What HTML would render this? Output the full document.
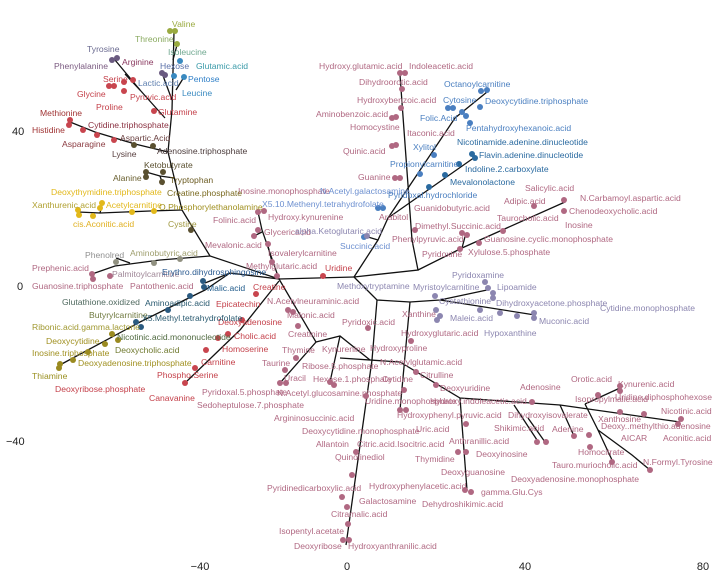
<!DOCTYPE html>
<html><head><meta charset="utf-8"><style>
html,body{margin:0;padding:0;background:#fff;}
svg{display:block;font-family:"Liberation Sans",sans-serif;}
text{font-size:8.6px;}
.ax{font-size:11px;fill:#222;}
</style></head><body>
<svg width="720" height="585" viewBox="0 0 720 585" xmlns="http://www.w3.org/2000/svg">
<g stroke="#111" stroke-width="1.3" fill="none">
<!-- upper-left tree -->
<polyline points="279,279 262,230 258,212"/>
<polyline points="262,232 254,236"/>
<polyline points="272,262 268,246"/>
<polyline points="279,279 210,256 182,210 168,152 172,110 174,32"/>
<polyline points="210,256 160,260 115,266 92,274"/>
<polyline points="130,263 116,258"/>
<polyline points="182,210 150,211 100,213 78,212"/>
<polyline points="100,213 102,205"/>
<polyline points="174,178 160,176 146,172"/>
<polyline points="160,176 163,185"/>
<polyline points="168,152 135,144 95,132 70,122"/>
<polyline points="165,118 140,90 115,60"/>
<polyline points="140,90 125,74"/>
<polyline points="172,100 162,73"/>
<polyline points="176,90 184,77"/>
<polyline points="173,60 177,45"/>
<!-- left blue / olive -->
<polyline points="279,279 230,273 205,290 140,322 58,366"/>
<polyline points="230,273 205,283"/>
<!-- red chain -->
<polyline points="279,281 240,330 185,383"/>
<!-- pink lower-left -->
<polyline points="279,279 316,342 280,383"/>
<polyline points="316,342 340,336 370,360"/>
<polyline points="340,336 330,382"/>
<polyline points="295,312 288,310"/>
<!-- center -->
<polyline points="279,279 354,277"/>
<polyline points="354,277 378,240 388,218 455,118 487,92"/>
<polyline points="388,218 475,157"/>
<polyline points="378,240 368,237"/>
<polyline points="354,277 418,270 412,240 400,75"/>
<polyline points="418,270 462,248 565,202"/>
<polyline points="462,248 466,233"/>
<polyline points="354,277 377,300 410,302 440,300 487,290"/>
<polyline points="440,300 535,315"/>
<polyline points="377,300 372,360 346,545"/>
<polyline points="410,302 400,410"/>
<polyline points="340,358 400,362 460,398 560,405 680,422"/>
<polyline points="460,398 467,490"/>
<polyline points="585,404 620,388"/>
<polyline points="585,404 598,430 612,460"/>
<polyline points="598,430 632,455 650,470"/>
<polyline points="560,405 574,436"/>
<polyline points="514,405 537,440"/>
<polyline points="528,418 545,442"/>
</g>
<g>
<!-- dots -->
<g fill="#b06882">
<circle cx="258" cy="212" r="3"/><circle cx="264" cy="211" r="3"/><circle cx="254" cy="236" r="3"/><circle cx="258" cy="230" r="3"/>
<circle cx="268" cy="244" r="3"/><circle cx="272" cy="262" r="3"/><circle cx="277" cy="276" r="3"/>
<circle cx="92" cy="274" r="3"/><circle cx="93" cy="279" r="3"/><circle cx="110" cy="276" r="3"/>
<circle cx="280" cy="383" r="3"/><circle cx="286" cy="383" r="3"/><circle cx="296" cy="358" r="3"/><circle cx="285" cy="370" r="3"/>
<circle cx="330" cy="382" r="3"/><circle cx="334" cy="385" r="3"/><circle cx="298" cy="326" r="3"/><circle cx="288" cy="310" r="3"/><circle cx="293" cy="312" r="3"/>
<circle cx="400" cy="73" r="3"/><circle cx="405" cy="73" r="3"/><circle cx="402" cy="89" r="3"/><circle cx="401" cy="108" r="3"/><circle cx="392" cy="118" r="3"/><circle cx="396" cy="117" r="3"/><circle cx="392" cy="146" r="3"/><circle cx="396" cy="145" r="3"/><circle cx="395" cy="178" r="3"/><circle cx="400" cy="178" r="3"/>
<circle cx="564" cy="200" r="3"/><circle cx="564" cy="211" r="3"/><circle cx="534" cy="206" r="3"/><circle cx="503" cy="231" r="3"/><circle cx="479" cy="243" r="3"/><circle cx="460" cy="249" r="3"/><circle cx="462" cy="233" r="3"/><circle cx="467" cy="235" r="3"/><circle cx="415" cy="230" r="3"/>
<circle cx="368" cy="328" r="3"/><circle cx="366" cy="396" r="3"/><circle cx="356" cy="452" r="3"/><circle cx="352" cy="475" r="3"/><circle cx="342" cy="497" r="3"/><circle cx="347" cy="507" r="3"/><circle cx="348" cy="524" r="3"/><circle cx="343" cy="540" r="3"/><circle cx="349" cy="540" r="3"/>
<circle cx="411" cy="341" r="3"/><circle cx="400" cy="410" r="3"/><circle cx="406" cy="410" r="3"/><circle cx="404" cy="390" r="3"/><circle cx="416" cy="372" r="3"/><circle cx="436" cy="385" r="3"/><circle cx="466" cy="424" r="3"/><circle cx="458" cy="452" r="3"/><circle cx="466" cy="452" r="3"/><circle cx="465" cy="490" r="3"/><circle cx="471" cy="492" r="3"/><circle cx="532" cy="402" r="3"/>
<circle cx="620" cy="386" r="3"/><circle cx="620" cy="391" r="3"/><circle cx="598" cy="395" r="3"/><circle cx="620" cy="412" r="3"/><circle cx="644" cy="414" r="3"/><circle cx="681" cy="419" r="3"/><circle cx="678" cy="424" r="3"/><circle cx="589" cy="435" r="3"/><circle cx="590" cy="447" r="3"/><circle cx="612" cy="462" r="3"/><circle cx="650" cy="470" r="3"/><circle cx="574" cy="436" r="3"/><circle cx="546" cy="442" r="3"/><circle cx="537" cy="442" r="3"/>
</g>
<g fill="#c8454e"><circle cx="323" cy="276" r="3"/><circle cx="185" cy="383" r="3"/><circle cx="195" cy="368" r="3"/><circle cx="206" cy="350" r="3"/><circle cx="218" cy="338" r="3"/><circle cx="228" cy="334" r="3"/><circle cx="242" cy="320" r="3"/><circle cx="256" cy="294" r="3"/>
<circle cx="109" cy="86" r="3"/><circle cx="114" cy="86" r="3"/><circle cx="124" cy="91" r="3"/><circle cx="133" cy="80" r="3"/><circle cx="154" cy="111" r="3"/><circle cx="70" cy="120" r="3"/><circle cx="69" cy="125" r="3"/><circle cx="83" cy="130" r="3"/><circle cx="97" cy="135" r="3"/><circle cx="114" cy="140" r="3"/><circle cx="124" cy="82" r="3"/></g>
<g fill="#6a5a80"><circle cx="112" cy="60" r="3"/><circle cx="117" cy="58" r="3"/><circle cx="162" cy="73" r="3"/><circle cx="165" cy="75" r="3"/></g>
<g fill="#9aaa40"><circle cx="170" cy="31" r="3"/><circle cx="175" cy="31" r="3"/><circle cx="177" cy="44" r="3"/></g>
<g fill="#3a8ac0"><circle cx="184" cy="77" r="3"/><circle cx="180" cy="61" r="3"/><circle cx="174" cy="76" r="3"/></g>
<g fill="#5a5030"><circle cx="146" cy="172" r="3"/><circle cx="146" cy="177" r="3"/><circle cx="163" cy="172" r="3"/><circle cx="162" cy="182" r="3"/><circle cx="153" cy="146" r="3"/><circle cx="134" cy="145" r="3"/><circle cx="191" cy="230" r="3"/></g>
<g fill="#e2b81a"><circle cx="78" cy="210" r="3"/><circle cx="79" cy="215" r="3"/><circle cx="93" cy="216" r="3"/><circle cx="100" cy="208" r="3"/><circle cx="102" cy="203" r="3"/><circle cx="132" cy="212" r="3"/><circle cx="154" cy="211" r="3"/></g>
<g fill="#2a5a80"><circle cx="203" cy="281" r="3"/><circle cx="204" cy="287" r="3"/><circle cx="190" cy="296" r="3"/><circle cx="168" cy="310" r="3"/><circle cx="136" cy="322" r="3"/><circle cx="141" cy="327" r="3"/></g>
<g fill="#9a8a20"><circle cx="112" cy="334" r="3"/><circle cx="118" cy="340" r="3"/><circle cx="105" cy="344" r="3"/><circle cx="88" cy="352" r="3"/><circle cx="73" cy="360" r="3"/><circle cx="60" cy="364" r="3"/><circle cx="59" cy="368" r="3"/></g>
<g fill="#909080"><circle cx="116" cy="262" r="3"/><circle cx="154" cy="263" r="3"/><circle cx="180" cy="259" r="3"/></g>
<g fill="#4a7fc0"><circle cx="487" cy="90" r="3"/><circle cx="481" cy="91" r="3"/><circle cx="480" cy="107" r="3"/><circle cx="448" cy="108" r="3"/><circle cx="453" cy="108" r="3"/><circle cx="462" cy="112" r="3"/><circle cx="466" cy="116" r="3"/><circle cx="470" cy="123" r="3"/><circle cx="434" cy="155" r="3"/><circle cx="420" cy="174" r="3"/><circle cx="378" cy="208" r="3"/><circle cx="383" cy="208" r="3"/><circle cx="364" cy="237" r="3"/></g>
<g fill="#2a6aa0"><circle cx="472" cy="154" r="3"/><circle cx="475" cy="158" r="3"/><circle cx="459" cy="164" r="3"/><circle cx="445" cy="175" r="3"/><circle cx="429" cy="187" r="3"/></g>
<g fill="#8c86b0"><circle cx="367" cy="236" r="3"/><circle cx="485" cy="282" r="3"/><circle cx="488" cy="288" r="3"/><circle cx="493" cy="293" r="3"/><circle cx="493" cy="298" r="3"/><circle cx="435" cy="296" r="3"/><circle cx="480" cy="310" r="3"/><circle cx="500" cy="313" r="3"/><circle cx="517" cy="316" r="3"/><circle cx="534" cy="313" r="3"/><circle cx="534" cy="318" r="3"/><circle cx="436" cy="310" r="3"/><circle cx="440" cy="316" r="3"/><circle cx="437" cy="320" r="3"/></g>
</g>
<!-- labels -->
<g fill="#b06882">
<text x="238" y="194">Inosine.monophosphate</text><text x="213" y="223">Folinic.acid</text><text x="268" y="220">Hydroxy.kynurenine</text><text x="264" y="235">Glycericacid</text><text x="205" y="248">Mevalonic.acid</text><text x="268" y="256">Isovalerylcarnitine</text><text x="32" y="271">Prephenic.acid</text><text x="246" y="269">Methylglutaric.acid</text><text x="112" y="277" fill="#a08898">Palmitoylcarnitine</text><text x="32" y="289">Guanosine.triphosphate</text><text x="130" y="289">Pantothenic.acid</text>
<text x="267" y="304">N.Acetylneuraminic.acid</text><text x="287" y="318">Malonic.acid</text><text x="288" y="337">Creatinine</text><text x="282" y="353">Thymine</text><text x="322" y="352">Kynurenine</text><text x="262" y="366">Taurine</text><text x="302" y="369">Ribose.5.phosphate</text><text x="284" y="381">Uracil</text><text x="313" y="382">Hexose.1.phosphate</text><text x="202" y="395">Pyridoxal.5.phosphate</text><text x="277" y="396">N.Acetyl.glucosamine.phosphate</text><text x="197" y="408">Sedoheptulose.7.phosphate</text><text x="274" y="421">Argininosuccinic.acid</text><text x="302" y="434">Deoxycytidine.monophosphate</text><text x="316" y="447">Allantoin</text><text x="357" y="447">Citric.acid.Isocitric.acid</text><text x="335" y="460">Quinolinediol</text><text x="267" y="491">Pyridinedicarboxylic.acid</text><text x="359" y="504">Galactosamine</text><text x="331" y="517">Citramalic.acid</text><text x="279" y="534">Isopentyl.acetate</text><text x="294" y="549">Deoxyribose</text><text x="348" y="549">Hydroxyanthranilic.acid</text>
<text x="402" y="317">Xanthine</text><text x="342" y="325">Pyridoxic.acid</text><text x="401" y="336">Hydroxyglutaric.acid</text><text x="370" y="351">Hydroxyproline</text><text x="380" y="365">N.Acetylglutamic.acid</text><text x="420" y="378">Citrulline</text><text x="382" y="382">Cytidine</text><text x="440" y="391">Deoxyuridine</text><text x="520" y="390">Adenosine</text><text x="571" y="382">Orotic.acid</text><text x="618" y="387">Kynurenic.acid</text><text x="365" y="404">Uridine.monophosphate</text><text x="430" y="404">Hydroxy.indoleacetic.acid</text><text x="575" y="402">Isopropylmalic.acid</text><text x="615" y="400">Uridine.diphosphohexose</text><text x="397" y="418">Hydroxyphenyl.pyruvic.acid</text><text x="508" y="418">Dihydroxyisovalerate</text><text x="661" y="414">Nicotinic.acid</text><text x="598" y="422">Xanthosine</text><text x="416" y="432">Uric.acid</text><text x="494" y="431">Shikimic.acid</text><text x="552" y="432">Adenine</text><text x="601" y="429">Deoxy..methylthio.adenosine</text><text x="621" y="441">AICAR</text><text x="663" y="441">Aconitic.acid</text><text x="449" y="444">Anthranillic.acid</text><text x="578" y="455">Homocitrate</text><text x="476" y="457">Deoxyinosine</text><text x="643" y="465">N.Formyl.Tyrosine</text><text x="415" y="462">Thymidine</text><text x="552" y="468">Tauro.muriocholic.acid</text><text x="441" y="475">Deoxyguanosine</text><text x="511" y="482">Deoxyadenosine.monophosphate</text><text x="369" y="489">Hydroxyphenylacetic.acid</text><text x="481" y="495">gamma.Glu.Cys</text><text x="422" y="507">Dehydroshikimic.acid</text>
<text x="319" y="69">Hydroxy.glutamic.acid</text><text x="409" y="69">Indoleacetic.acid</text><text x="359" y="85">Dihydroorotic.acid</text><text x="357" y="103">Hydroxybenzoic.acid</text><text x="316" y="117">Aminobenzoic.acid</text><text x="350" y="130">Homocystine</text><text x="407" y="136">Itaconic.acid</text><text x="343" y="154">Quinic.acid</text><text x="358" y="180">Guanine</text><text x="525" y="191">Salicylic.acid</text><text x="580" y="201">N.Carbamoyl.aspartic.acid</text><text x="504" y="204">Adipic.acid</text><text x="414" y="211">Guanidobutyric.acid</text><text x="569" y="214">Chenodeoxycholic.acid</text><text x="379" y="220">Arabitol</text><text x="497" y="221">Taurocholic.acid</text><text x="565" y="228">Inosine</text><text x="415" y="229">Dimethyl.Succinic.acid</text><text x="392" y="242">Phenylpyruvic.acid</text><text x="484" y="242">Guanosine.cyclic.monophosphate</text><text x="422" y="257">Pyridoxine</text><text x="468" y="255">Xylulose.5.phosphate</text>
</g>
<g fill="#c4404a">
<text x="325" y="271">Uridine</text><text x="253" y="290">Creatine</text><text x="216" y="307">Epicatechin</text><text x="218" y="325">Deoxyadenosine</text><text x="234" y="339">Cholic.acid</text><text x="222" y="352">Homoserine</text><text x="201" y="365">Carnitine</text><text x="157" y="378">Phospho.Serine</text><text x="55" y="392">Deoxyribose.phosphate</text><text x="149" y="401">Canavanine</text>
<text x="103" y="82">Serine</text><text x="77" y="97">Glycine</text><text x="130" y="100">Pyruvic.acid</text><text x="96" y="110">Proline</text><text x="158" y="115">Glutamine</text><text x="40" y="116" fill="#a03434">Methionine</text><text x="32" y="133" fill="#a03434">Histidine</text><text x="88" y="128" fill="#8a3040">Cytidine.triphosphate</text><text x="62" y="147" fill="#8a3a40">Asparagine</text>
</g>
<text x="172" y="27" fill="#9aaa40">Valine</text><text x="135" y="42" fill="#8aaa60">Threonine</text><text x="168" y="55" fill="#70a890">Isoleucine</text><text x="87" y="52" fill="#6a6a90">Tyrosine</text><text x="160" y="69" fill="#5a70a8">Hexose</text><text x="196" y="69" fill="#3a9aa8">Glutamic.acid</text><text x="54" y="69" fill="#7a5a80">Phenylalanine</text><text x="122" y="65" fill="#8a3a60">Arginine</text><text x="138" y="86" fill="#6080b0">Lactic.acid</text><text x="188" y="82" fill="#3080c8">Pentose</text><text x="182" y="96" fill="#3a8ac0">Leucine</text>
<text x="120" y="141" fill="#6a4040">Aspartic.Acid</text><text x="157" y="154" fill="#4a3a3a">Adenosine.triphosphate</text><text x="112" y="157" fill="#5a4040">Lysine</text><text x="144" y="168" fill="#5a5030">Ketobutyrate</text><text x="113" y="181" fill="#6a6030">Alanine</text><text x="170" y="183" fill="#6a5a20">Tryptophan</text><text x="51" y="195" fill="#e2b81a">Deoxythymidine.triphosphate</text><text x="167" y="196" fill="#7a6a20">Creatine.phosphate</text><text x="32" y="208" fill="#b0a030">Xanthurenic.acid</text><text x="106" y="208" fill="#e2b81a">Acetylcarnitine</text><text x="159" y="210" fill="#a09020">O.Phosphorylethanolamine</text><text x="73" y="227" fill="#e0b020">cis.Aconitic.acid</text><text x="168" y="227" fill="#a09840">Cystine</text>
<text x="85" y="258" fill="#909090">Phenolred</text><text x="130" y="256" fill="#a0a070">Aminobutyric.acid</text><text x="162" y="275" fill="#2a5a90">Erythro.dihydrosphingosine</text><text x="207" y="291" fill="#1f5a8a">Malic.acid</text>
<text x="62" y="305" fill="#506a60">Glutathione.oxidized</text><text x="145" y="306" fill="#2a5a70">Aminoadipic.acid</text><text x="89" y="318" fill="#707a40">Butyrylcarnitine</text><text x="142" y="321" fill="#2a5a70">X5.Methyl.tetrahydrofolate</text><text x="32" y="330" fill="#a09830">Ribonic.acid.gamma.lactone</text><text x="117" y="340" fill="#506a40">Nicotinic.acid.mononucleotide</text><text x="46" y="344" fill="#a09020">Deoxycytidine</text><text x="115" y="353" fill="#707a30">Deoxycholic.acid</text><text x="32" y="356" fill="#a09020">Inosine.triphosphate</text><text x="78" y="366" fill="#a09020">Deoxyadenosine.triphosphate</text><text x="32" y="379" fill="#9a9020">Thiamine</text>
<g fill="#6d90d0"><text x="320" y="194">N.Acetyl.galactosamine</text><text x="262" y="207">X5.10.Methenyl.tetrahydrofolate</text><text x="340" y="249">Succinic.acid</text></g>
<g fill="#8c86b0"><text x="295" y="234">alpha.Ketoglutaric.acid</text><text x="337" y="289">Methoxytryptamine</text><text x="497" y="290">Lipoamide</text><text x="413" y="290">Myristoylcarnitine</text><text x="439" y="304">Cystathionine</text><text x="496" y="306">Dihydroxyacetone.phosphate</text><text x="600" y="311">Cytidine.monophosphate</text><text x="450" y="321">Maleic.acid</text><text x="539" y="324">Muconic.acid</text><text x="484" y="336">Hypoxanthine</text><text x="452" y="278">Pyridoxamine</text></g>
<g fill="#4a7fc0"><text x="444" y="87">Octanoylcarnitine</text><text x="443" y="103">Cytosine</text><text x="485" y="104">Deoxycytidine.triphosphate</text><text x="420" y="121">Folic.Acid</text><text x="466" y="131">Pentahydroxyhexanoic.acid</text><text x="413" y="150">Xylitol</text><text x="390" y="167">Propionylcarnitine</text><text x="388" y="198">Pyridoxal.hydrochloride</text></g>
<g fill="#2a6aa0"><text x="457" y="145">Nicotinamide.adenine.dinucleotide</text><text x="479" y="158">Flavin.adenine.dinucleotide</text><text x="465" y="172">Indoline.2.carboxylate</text><text x="450" y="185">Mevalonolactone</text></g>
<!-- axes -->
<text class="ax" x="12" y="135">40</text><text class="ax" x="17" y="290">0</text><text class="ax" x="6" y="445">−40</text>
<text class="ax" x="200" y="570" text-anchor="middle">−40</text><text class="ax" x="347" y="570" text-anchor="middle">0</text><text class="ax" x="525" y="570" text-anchor="middle">40</text><text class="ax" x="703" y="570" text-anchor="middle">80</text>
</svg>
</body></html>
